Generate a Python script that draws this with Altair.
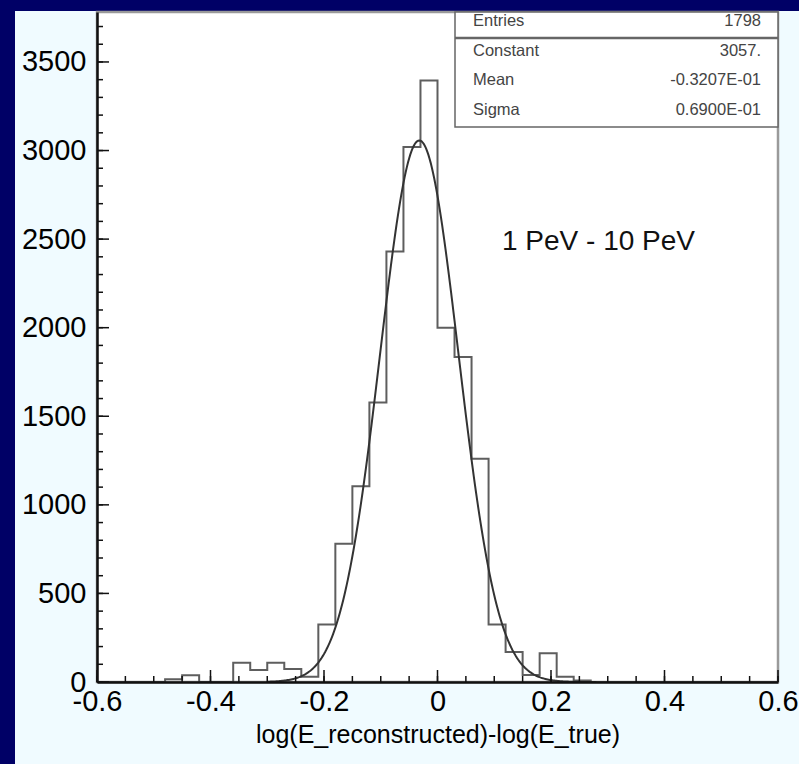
import altair as alt
import pandas as pd

# ---- data ----
bin_left = [-0.60, -0.57, -0.54, -0.51, -0.48, -0.45, -0.42, -0.39, -0.36, -0.33,
            -0.30, -0.27, -0.24, -0.21, -0.18, -0.15, -0.12, -0.09, -0.06, -0.03,
            0.00, 0.03, 0.06, 0.09, 0.12, 0.15, 0.18, 0.21, 0.24, 0.27,
            0.30, 0.33, 0.36, 0.39, 0.42, 0.45, 0.48, 0.51, 0.54, 0.57]
counts = [0, 0, 0, 0, 15, 38, 0, 0, 109, 68,
          109, 73, 30, 325, 780, 1105, 1578, 2430, 3020, 3395,
          2000, 1835, 1260, 325, 170, 40, 162, 30, 8, 0,
          0, 0, 0, 0, 0, 0, 0, 0, 0, 0]
x_last_edge = 0.60

x_major = [-0.6, -0.4, -0.2, 0.0, 0.2, 0.4, 0.6]
x_minor = [-0.6, -0.55, -0.5, -0.45, -0.4, -0.35, -0.3, -0.25, -0.2, -0.15, -0.1, -0.05,
           0.0, 0.05, 0.1, 0.15, 0.2, 0.25, 0.3, 0.35, 0.4, 0.45, 0.5, 0.55, 0.6]
y_major = [0, 500, 1000, 1500, 2000, 2500, 3000, 3500]
y_minor = [0, 100, 200, 300, 400, 500, 600, 700, 800, 900, 1000, 1100, 1200, 1300, 1400,
           1500, 1600, 1700, 1800, 1900, 2000, 2100, 2200, 2300, 2400, 2500, 2600, 2700,
           2800, 2900, 3000, 3100, 3200, 3300, 3400, 3500, 3600, 3700]

stat_names = ["Entries", "Constant", "Mean", "Sigma"]
stat_values = ["1798", "3057.", "-0.3207E-01", "0.6900E-01"]
fit_constant = 3057.0
fit_mean = -0.03207
fit_sigma = 0.06900
fit_range = [-0.30, 0.28]
energy_label = ["1 PeV - 10 PeV"]
x_title = "log(E_reconstructed)-log(E_true)"

# ---- layout ----
W, H = 681, 670
FONT = "Liberation Sans"
xs = alt.Scale(domain=[-0.6, 0.6], nice=False, zero=False)
ys = alt.Scale(domain=[0, 3782], nice=False, zero=False)

hist_df = pd.DataFrame({"x": bin_left + [x_last_edge], "y": counts + [0]})
one = pd.DataFrame({"a": [0]})
stats_df = pd.DataFrame({"name": stat_names, "value": stat_values, "row": list(range(len(stat_names)))})
label_df = pd.DataFrame({"t": energy_label})

panel = alt.Chart(one).mark_rect(color="#f0fbff").encode(
    x=alt.value(-82), x2=alt.value(W + 21), y=alt.value(-1), y2=alt.value(H + 82))
plotbg = alt.Chart(one).mark_rect(fill="white", stroke="#9a9a9a", strokeWidth=2.5).encode(
    x=alt.value(0), x2=alt.value(W), y=alt.value(0), y2=alt.value(H))

lab_expr = "datum.value == 0 ? '0' : (datum.value < 0 ? '-' + format(-datum.value, '.1f') : format(datum.value, '.1f'))"

hist = alt.Chart(hist_df).mark_line(interpolate="step-after", color="#5e5e5e", strokeWidth=2).encode(
    x=alt.X("x:Q", scale=xs, axis=alt.Axis(
        orient="bottom", values=x_major, ticks=False, grid=False, labelExpr=lab_expr,
        labelFont=FONT, labelFontSize=29, labelColor="black", labelPadding=5,
        labelFlush=False, labelOverlap=False, domainColor="#111", domainWidth=2.5,
        title=x_title, titleFont=FONT, titleFontSize=25, titleFontWeight="normal",
        titleColor="black", titlePadding=6, zindex=1)),
    y=alt.Y("y:Q", scale=ys, axis=alt.Axis(
        orient="left", values=y_major, ticks=False, grid=False, format="d",
        labelFont=FONT, labelFontSize=29, labelColor="black", labelPadding=11,
        labelOverlap=False, domainColor="#111", domainWidth=2.5, title=None, zindex=1)),
)

def y_ticks(vals, length):
    return alt.Chart(pd.DataFrame({"v": vals})).mark_rule(color="#111111", strokeWidth=1.5).encode(
        y=alt.Y("v:Q", scale=ys, axis=None), x=alt.value(0), x2=alt.value(length))

def x_ticks(vals, length):
    return alt.Chart(pd.DataFrame({"v": vals})).mark_rule(color="#111111", strokeWidth=1.5).encode(
        x=alt.X("v:Q", scale=xs, axis=None), y=alt.value(H), y2=alt.value(H - length))

ticks = [y_ticks(y_minor, 6), y_ticks(y_major, 12), x_ticks(x_minor, 6), x_ticks(x_major, 12)]

curve = alt.Chart(alt.sequence(fit_range[0], fit_range[1] + 0.001, 0.002, as_="x")).transform_calculate(
    y=f"{fit_constant} * exp(-0.5 * pow((datum.x - ({fit_mean})) / {fit_sigma}, 2))"
).mark_line(color="#333333", strokeWidth=2).encode(
    x=alt.X("x:Q", scale=xs, axis=None),
    y=alt.Y("y:Q", scale=ys, axis=None),
)

BOX_X0 = 358
BOX_H = 115
box = alt.Chart(one).mark_rect(fill="white", stroke="#666666", strokeWidth=1.5).encode(
    x=alt.value(BOX_X0), x2=alt.value(W), y=alt.value(0), y2=alt.value(BOX_H))
sep = alt.Chart(one).mark_rule(color="#666666", strokeWidth=2.5).encode(
    x=alt.value(BOX_X0), x2=alt.value(W), y=alt.value(26))

stat_y = alt.Y("row:Q", scale=alt.Scale(domain=[0, 3], range=[9, 98]), axis=None)
stat_names_txt = alt.Chart(stats_df).mark_text(
    align="left", baseline="middle", font=FONT, fontSize=16.5, color="#444444"
).encode(x=alt.value(376), y=stat_y, text="name:N")
stat_vals_txt = alt.Chart(stats_df).mark_text(
    align="right", baseline="middle", font=FONT, fontSize=16.5, color="#444444"
).encode(x=alt.value(664), y=stat_y, text="value:N")

energy_txt = alt.Chart(label_df).mark_text(
    align="left", baseline="middle", font=FONT, fontSize=28, color="#111111"
).encode(x=alt.value(405), y=alt.value(230), text="t:N")

chart = alt.layer(
    panel, plotbg, hist, curve, *ticks, box, sep,
    stat_names_txt, stat_vals_txt, energy_txt
).resolve_axis(x="independent", y="independent").resolve_scale(y="independent").properties(
    width=W, height=H, background="#000066",
    padding={"left": 97, "top": 12, "right": 21, "bottom": 82},
    autosize=alt.AutoSizeParams(type="none"),
).configure_view(stroke=None)

chart.save("out.html", embed_options={"renderer": "svg", "actions": False})
